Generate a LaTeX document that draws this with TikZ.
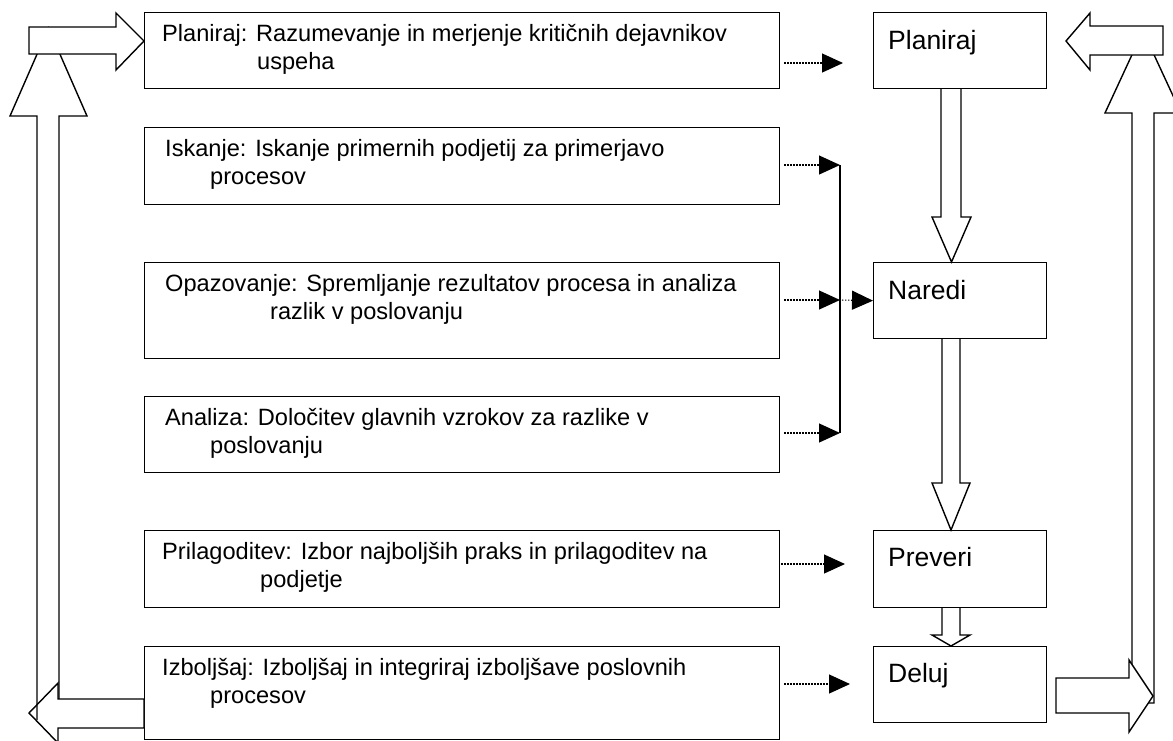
\documentclass[tikz,border=0pt]{standalone}
\usepackage{fontspec}
\setmainfont{Liberation Sans}
\usetikzlibrary{arrows.meta}
\begin{document}
\begin{tikzpicture}[x=1pt,y=-1pt,
  box/.style={draw,line width=1.3pt,inner sep=0pt,anchor=north west},
  ltext/.style={anchor=base west,inner sep=0pt,font=\fontsize{23.6}{27}\selectfont},
  rtext/.style={anchor=base west,inner sep=0pt,font=\fontsize{26.5}{30}\selectfont},
  dotarrow/.style={line width=1.1pt,dash pattern=on 1.3pt off 1.7pt,
    -{Triangle[length=21pt,width=19pt]}},
  blockarrow/.style={draw,line width=1.4pt,fill=white,line join=miter},
  openarrow/.style={draw,line width=1.4pt,line join=miter},
  link/.style={line width=1.3pt}]
\useasboundingbox (0,0) rectangle (1173,740);

% step boxes on the left
\node[box,minimum width=635pt,minimum height=76pt] (b1) at (144,12) {};
\node[box,minimum width=635pt,minimum height=77pt] (b2) at (144,127) {};
\node[box,minimum width=635pt,minimum height=96pt] (b3) at (144,262) {};
\node[box,minimum width=635pt,minimum height=76pt] (b4) at (144,396) {};
\node[box,minimum width=635pt,minimum height=77pt] (b5) at (144,530) {};
\node[box,minimum width=635pt,minimum height=93pt] (b6) at (144,646) {};

\node[ltext] (b1a) at (162,41) {Planiraj: Razumevanje in merjenje kritičnih dejavnikov};
\node[ltext] (b1b) at (257,69) {uspeha};
\node[ltext] (b2a) at (165,156) {Iskanje: Iskanje primernih podjetij za primerjavo};
\node[ltext] (b2b) at (210,184) {procesov};
\node[ltext] (b3a) at (165,291) {Opazovanje: Spremljanje rezultatov procesa in analiza};
\node[ltext] (b3b) at (270,319) {razlik v poslovanju};
\node[ltext] (b4a) at (165,425) {Analiza: Določitev glavnih vzrokov za razlike v};
\node[ltext] (b4b) at (210,453) {poslovanju};
\node[ltext] (b5a) at (162,559) {Prilagoditev: Izbor najboljših praks in prilagoditev na};
\node[ltext] (b5b) at (260,587) {podjetje};
\node[ltext] (b6a) at (162,675) {Izboljšaj: Izboljšaj in integriraj izboljšave poslovnih};
\node[ltext] (b6b) at (210,703) {procesov};

% cycle boxes on the right
\node[box,minimum width=173pt,minimum height=76pt] (r1) at (873,12) {};
\node[box,minimum width=173pt,minimum height=76pt] (r2) at (873,262) {};
\node[box,minimum width=173pt,minimum height=77pt] (r3) at (873,530) {};
\node[box,minimum width=173pt,minimum height=76pt] (r4) at (873,646) {};
\node[rtext] (r1t) at (888,49) {Planiraj};
\node[rtext] (r2t) at (888,299) {Naredi};
\node[rtext] (r3t) at (888,566) {Preveri};
\node[rtext] (r4t) at (888,682) {Deluj};

% dotted connectors
\coordinate (p1) at (843,63);
\coordinate (j1) at (840,165);
\coordinate (j2) at (840,300);
\coordinate (j3) at (840,433);
\coordinate (p5) at (845,564);
\coordinate (p6) at (850,684);
\draw[dotarrow,shorten <=4pt] (b1.east |- p1) -- (p1);
\draw[dotarrow,shorten <=4pt] (b2.east |- j1) -- (j1);
\draw[dotarrow,shorten <=4pt] (b3.east |- j2) -- (j2);
\draw[dotarrow,shorten <=4pt] (b4.east |- j3) -- (j3);
\draw[link] (j1) -- (j3);
\draw[dotarrow,shorten <=2pt] (j2) -- (r2.west);
\draw[dotarrow,shorten <=1pt] (b5.east |- p5) -- (p5);
\draw[dotarrow,shorten <=4pt] (b6.east |- p6) -- (p6);

% downward block arrows between the cycle boxes
\draw[openarrow] (941,88) -- (941,217) -- (932,217) -- (951.5,262)
  -- (971,217) -- (961,217) -- (961,88);
\draw[openarrow] (942,338) -- (942,483) -- (932,483) -- (951,530)
  -- (970,483) -- (960,483) -- (960,338);
\draw[openarrow] (942,607) -- (942,635) -- (932,635) -- (951,646)
  -- (970,635) -- (960,635) -- (960,607);

% feedback loop on the left
\draw[blockarrow] (144,699) -- (58,699) -- (58,683) -- (29,713)
  -- (58,743) -- (58,728) -- (144,728) -- cycle;
\draw[openarrow] (37,720) -- (37,116) -- (10,116) -- (48.5,28)
  -- (87,116) -- (59,116) -- (59,699);
\draw[blockarrow] (29,27) -- (116,27) -- (116,13) -- (144,41)
  -- (116,70) -- (116,54) -- (29,54) -- cycle;

% feedback loop on the right
\draw[blockarrow] (1132,703) -- (1132,113) -- (1105,113) -- (1143,31)
  -- (1181,113) -- (1154,113) -- (1154,703) -- cycle;
\draw[blockarrow] (1163,26) -- (1090,26) -- (1090,13) -- (1066,41)
  -- (1090,70) -- (1090,55) -- (1163,55) -- cycle;
\draw[blockarrow] (1056,678) -- (1129,678) -- (1129,660) -- (1153,696)
  -- (1129,732) -- (1129,713) -- (1056,713) -- cycle;
\end{tikzpicture}
\end{document}
